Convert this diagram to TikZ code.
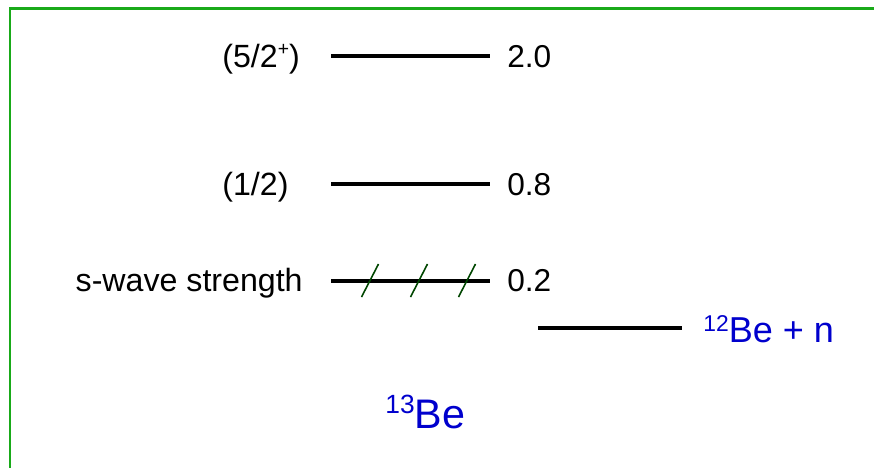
\documentclass[tikz,border=0pt]{standalone}
\usepackage{fontspec}
\setmainfont{Liberation Sans}
\usetikzlibrary{positioning}
\definecolor{framegreen}{RGB}{25,170,25}
\definecolor{slashgreen}{RGB}{0,70,0}
\definecolor{nucblue}{RGB}{0,0,205}

\begin{document}
\begin{tikzpicture}[
            x=0.02cm, y=-0.02cm,
            level/.style={line width=2.2pt, black},
            slash/.style={line width=0.9pt, slashgreen},
            spinlabel/.style={anchor=base west, inner sep=0pt, font=\fontsize{18.3}{20}\selectfont},
            energylabel/.style={anchor=base west, inner sep=0pt, font=\fontsize{18}{20}\selectfont},
            nuclabel/.style={anchor=base west, inner sep=0pt, text=nucblue}
        ]
            \useasboundingbox (0,0) rectangle (874,467);
            \draw[framegreen, line width=1.5pt] (10,470) -- (10,8.5) -- (880,8.5);

            % level ends
            \coordinate (a1) at (331,56);  \coordinate (b1) at (490,56);
            \coordinate (a2) at (331,184); \coordinate (b2) at (490,184);
            \coordinate (a3) at (331,281); \coordinate (b3) at (490,281);
            \coordinate (a4) at (538,328); \coordinate (b4) at (682,328);

            \draw[level] (a1) -- (b1);
            \draw[level] (a2) -- (b2);
            \draw[level] (a3) -- (b3);
            \draw[level] (a4) -- (b4);

            % s-wave marks
            \foreach \xm in {370,419,467}
                \draw[slash] (\xm-8.5,297) -- (\xm+8.5,264);

            \node[spinlabel] (spin1) at (222,67) {(5/2\raisebox{6.5pt}{\fontsize{11}{12}\selectfont +})};
            \node[spinlabel] (spin2) at (222,195) {(1/2)};
            \node[spinlabel, anchor=base east] (swave) at (303,291) {s-wave strength};

            \node[energylabel] (e1) at (507,67) {2.0};
            \node[energylabel] (e2) at (507,195) {0.8};
            \node[energylabel] (e3) at (507,291) {0.2};

            \node[nuclabel, font=\fontsize{20.5}{22}\selectfont] (thr) at (703,342)
                {\raisebox{5.7pt}{\fontsize{13}{14}\selectfont 12}Be + n};
            \node[nuclabel, font=\fontsize{23.5}{26}\selectfont] (be13) at (385,428)
                {\raisebox{8.5pt}{\fontsize{15}{16}\selectfont 13}Be};
        \end{tikzpicture}
\end{document}
